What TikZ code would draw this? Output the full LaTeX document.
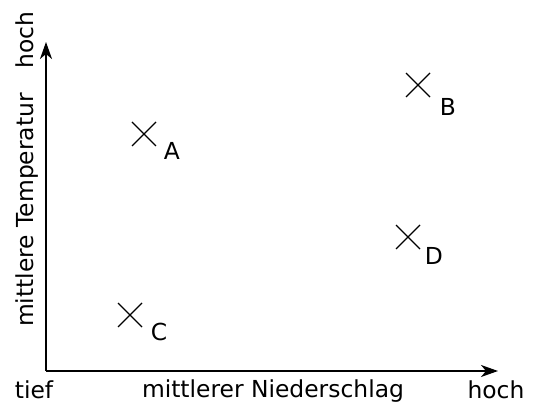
\documentclass[tikz,border=0pt]{standalone}
\usepackage{fontspec}
\setmainfont{DejaVu Sans}
\usetikzlibrary{arrows.meta}
\begin{document}
\begin{tikzpicture}[x=1pt,y=-1pt,
  txt/.style={font=\fontsize{23.4}{28}\selectfont, inner sep=0pt},
  axis/.style={line width=1.8pt, -{Stealth[length=17pt,width=12pt,inset=5pt]}},
  crossline/.style={line width=1.2pt}]
\useasboundingbox (0,0) rectangle (533,403);
\coordinate (O) at (46,371);
\coordinate (X) at (498,371);
\coordinate (Y) at (46,42);
\draw[axis] (O) -- (X);
\draw[axis] (O) -- (Y);
% crosses
\foreach \n/\x/\y in {A/144/134, B/418/85, C/130/315, D/408/237} {
  \coordinate (\n) at (\x,\y);
  \draw[crossline] ([shift={(-12,-12)}]\n) -- ([shift={(12,12)}]\n);
  \draw[crossline] ([shift={(-12,12)}]\n) -- ([shift={(12,-12)}]\n);
}
\node[txt, anchor=base] (la) at (172,160) {A};
\node[txt, anchor=base] (lb) at (448,116) {B};
\node[txt, anchor=base] (lc) at (159,341) {C};
\node[txt, anchor=base] (ld) at (434,265) {D};
% axis labels
\node[txt, anchor=base] (tief) at (34,399) {tief};
\node[txt, anchor=base] (xl) at (273,397) {mittlerer Niederschlag};
\node[txt, anchor=base] (xh) at (496,399) {hoch};
\node[txt, anchor=base, rotate=90] (yh) at (33,40) {hoch};
\node[txt, anchor=base, rotate=90] (yl) at (33,210) {mittlere Temperatur};
\end{tikzpicture}
\end{document}
